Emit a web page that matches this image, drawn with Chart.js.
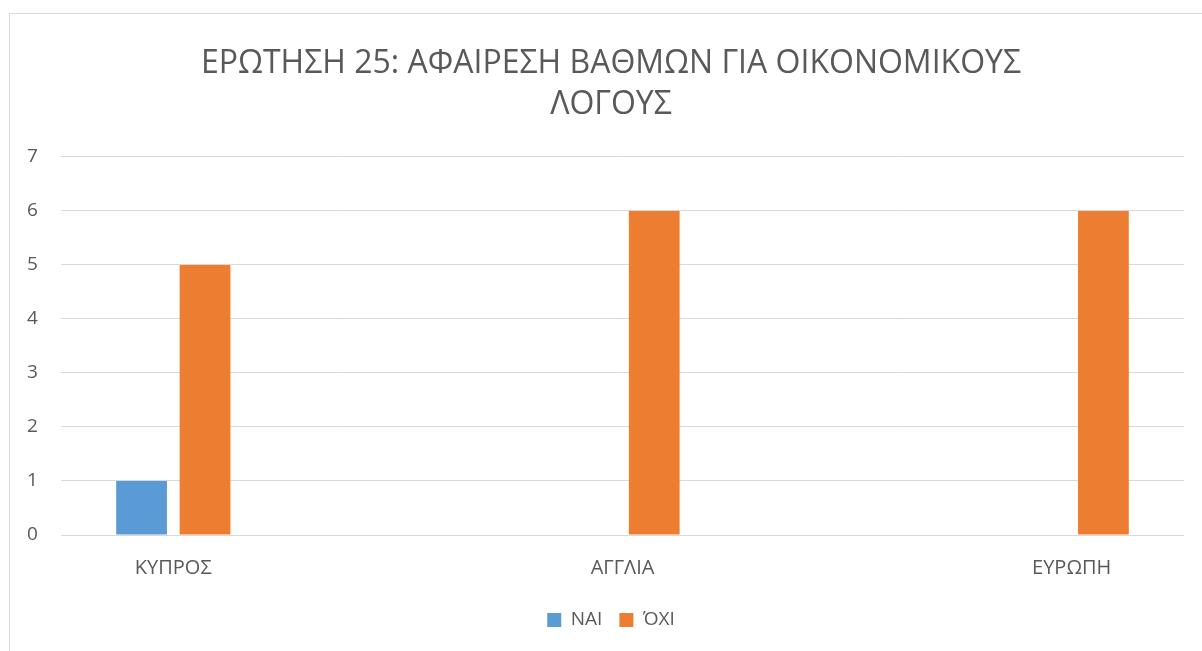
<!DOCTYPE html>
<html>
<head>
<meta charset="utf-8">
<script src="https://cdn.jsdelivr.net/npm/chart.js@4/dist/chart.umd.min.js"></script>
<style>
  body { margin: 0; background: #fff; overflow: hidden; }
  #frame {
    position: absolute; left: 9px; top: 13px;
    width: 1300px; height: 700px;
    border: 1px solid #d9d9d9;
  }
  #wrap { position: absolute; left: 0; top: 0; width: 1202px; height: 651px; }
</style>
</head>
<body>
<div id="frame"></div>
<div id="wrap"><canvas id="myChart" width="1202" height="651"></canvas></div>
<script>
const titleLines = ["ΕΡΩΤΗΣΗ 25: ΑΦΑΙΡΕΣΗ ΒΑΘΜΩΝ ΓΙΑ ΟΙΚΟΝΟΜΙΚΟΥΣ", "ΛΟΓΟΥΣ"];
const categories = ["ΚΥΠΡΟΣ", "ΑΓΓΛΙΑ", "ΕΥΡΩΠΗ"];
const seriesNames = ["ΝΑΙ", "ΌΧΙ"];
const yesValues = [1, 0, 0];
const noValues = [5, 6, 6];
const yTicks = [0, 1, 2, 3, 4, 5, 6, 7];

const textColor = "#595959";
const fontFamily = "'Open Sans', 'Noto Sans', sans-serif";

// bars sit on a numeric x axis so the group positions match the original
const toPoints = (vals) => vals.map((v, i) => ({ x: i, y: v }));

const ctx = document.getElementById("myChart").getContext("2d");

window.myChart = new Chart(ctx, {
  type: "bar",
  data: {
    datasets: [
      {
        label: seriesNames[0],
        data: toPoints(yesValues),
        backgroundColor: "#5B9BD5",
      },
      {
        label: seriesNames[1],
        data: toPoints(noValues),
        backgroundColor: "#ED7D31",
      },
    ],
  },
  options: {
    responsive: false,
    animation: false,
    layout: { padding: { left: 38, right: 18, top: 0, bottom: 11.5 } },
    datasets: {
      bar: { categoryPercentage: 0.2825, barPercentage: 0.8 },
    },
    plugins: {
      tooltip: { enabled: false },
      title: {
        display: true,
        text: titleLines,
        color: textColor,
        font: { family: fontFamily, size: 32, weight: "normal", lineHeight: 1.281 },
        padding: { top: 43, bottom: 32 },
      },
      legend: {
        position: "bottom",
        labels: {
          color: textColor,
          font: { family: fontFamily, size: 19 },
          boxWidth: 14,
          boxHeight: 14,
          padding: 17,
        },
      },
    },
    scales: {
      x: {
        type: "linear",
        offset: false,
        min: -0.25,
        max: 2.25,
        grid: { display: false, drawTicks: false, offset: false },
        border: { display: false },
        ticks: {
          stepSize: 1,
          includeBounds: false,
          autoSkip: false,
          maxRotation: 0,
          padding: 21.5,
          color: textColor,
          font: { family: fontFamily, size: 20 },
          callback: (v) => (Number.isInteger(v) ? categories[v] : ""),
        },
        afterFit: (scale) => {
          scale.height = 58.5;
        },
      },
      y: {
        min: yTicks[0],
        max: yTicks[yTicks.length - 1],
        grid: { color: "#d9d9d9", lineWidth: 1, drawTicks: false },
        border: { display: false },
        ticks: {
          stepSize: 1,
          mirror: true,
          padding: -34,
          color: textColor,
          font: { family: fontFamily, size: 19 },
        },
        afterFit: (scale) => {
          scale.width = 23;
        },
      },
    },
  },
});
</script>
</body>
</html>
